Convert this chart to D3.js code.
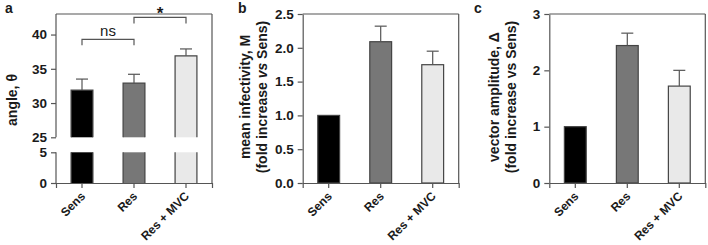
<!DOCTYPE html>
<html><head><meta charset="utf-8">
<script src="https://cdn.jsdelivr.net/npm/d3@7"></script>
<style>
html,body{margin:0;padding:0;background:#fff;}
svg{display:block;font-family:"Liberation Sans",Arial,Helvetica,sans-serif;}
</style></head>
<body>
<svg id="chart" width="708" height="245"></svg>
<script>
// ---- data ----
const categories = ["Sens", "Res", "Res + MVC"];
const barColors = ["#000000", "#777777", "#e9e9e9"];

const angleMean = [31.9, 32.9, 36.9];
const angleSem  = [1.6, 1.3, 1.0];
const angleTicksUpper = [25, 30, 35, 40];
const angleTicksLower = [0, 5];

const infectivityMean = [1.0, 2.09, 1.75];
const infectivitySem  = [0, 0.23, 0.2];
const infectivityTicks = [0, 0.5, 1.0, 1.5, 2.0, 2.5];

const amplitudeMean = [1.0, 2.44, 1.72];
const amplitudeSem  = [0, 0.22, 0.28];
const amplitudeTicks = [0, 1, 2, 3];

const sigBrackets = [{from: 0, to: 1, label: "ns", y: 39.3}, {from: 1, to: 2, label: "*", y: 42.5}];

// ---- drawing ----
const svg = d3.select("#chart");
const axisColor = "#555";
const textColor = "#1a1a1a";
const plotTop = 14, plotBottom = 183, plotW = 156;

function xScaleFor(left) {
  return d3.scaleBand().domain(categories).range([left, left + plotW]).paddingInner(0.58).paddingOuter(0.29);
}

function frame(g, left) {
  g.append("line").attr("x1", left).attr("x2", left + plotW).attr("y1", plotTop).attr("y2", plotTop)
    .attr("stroke", axisColor).attr("stroke-width", 1.2);
  g.append("line").attr("x1", left + plotW).attr("x2", left + plotW).attr("y1", plotTop).attr("y2", plotBottom)
    .attr("stroke", axisColor).attr("stroke-width", 1.2);
}

function xAxis(g, x) {
  const ax = g.append("g").attr("transform", `translate(0,${plotBottom})`)
    .call(d3.axisBottom(x).tickSizeOuter(0).tickSize(5).tickPadding(4));
  ax.select(".domain").attr("stroke", axisColor).attr("stroke-width", 1.2);
  ax.selectAll(".tick line").attr("stroke", axisColor).attr("stroke-width", 1.2);
  ax.selectAll(".tick text")
    .attr("fill", textColor).attr("font-size", 12).attr("font-weight", "bold")
    .attr("text-anchor", "end").attr("x", 0).attr("y", 0).attr("dy", "0.35em")
    .attr("transform", "translate(1,11) rotate(-45)");
}

function styleY(ax) {
  ax.selectAll(".tick line").attr("stroke", axisColor).attr("stroke-width", 1.2);
  ax.selectAll(".tick text").attr("fill", textColor).attr("font-size", 13.5).attr("font-weight", "bold");
}

function bars(g, x, y, mean, sem, baseY) {
  const bw = x.bandwidth();
  categories.forEach((c, i) => {
    const x0 = x(c), yTop = y(mean[i]);
    g.append("rect").attr("x", x0).attr("y", yTop).attr("width", bw).attr("height", baseY - yTop)
      .attr("fill", barColors[i]).attr("stroke", "#444").attr("stroke-width", 1.2);
    if (sem[i] > 0) {
      const cx = x0 + bw / 2, yE = y(mean[i] + sem[i]);
      g.append("line").attr("x1", cx).attr("x2", cx).attr("y1", yTop).attr("y2", yE)
        .attr("stroke", axisColor).attr("stroke-width", 1.2);
      g.append("line").attr("x1", cx - 6).attr("x2", cx + 6).attr("y1", yE).attr("y2", yE)
        .attr("stroke", axisColor).attr("stroke-width", 1.2);
    }
  });
}

function panelLetter(txt, px) {
  svg.append("text").attr("x", px).attr("y", 13).text(txt)
    .attr("font-size", 14).attr("font-weight", "bold").attr("fill", textColor);
}

function yTitle(lines, cx, cy) {
  const t = svg.append("text").attr("transform", `translate(${cx},${cy}) rotate(-90)`)
    .attr("text-anchor", "middle").attr("font-size", 14).attr("font-weight", "bold").attr("fill", textColor);
  lines.forEach((ln, i) => {
    const ts = t.append("tspan").attr("x", 0).attr("dy", i === 0 ? 0 : "1.22em");
    ln.forEach(part => {
      ts.append("tspan").text(part.t).attr("font-style", part.i ? "italic" : null);
    });
  });
}

// ---- Panel a (broken axis) ----
(function () {
  const left = 56;
  const g = svg.append("g");
  const x = xScaleFor(left);
  const breakTop = 137.3, breakBot = 152.3;
  const yU = d3.scaleLinear().domain([25, 43]).range([breakTop, plotTop]);
  const yL = d3.scaleLinear().domain([0, 5]).range([plotBottom, breakBot]);
  frame(g, left);

  const bw = x.bandwidth();
  categories.forEach((c, i) => {
    const x0 = x(c), yTop = yU(angleMean[i]);
    g.append("rect").attr("x", x0).attr("y", yTop).attr("width", bw).attr("height", breakTop - yTop)
      .attr("fill", barColors[i]);
    g.append("path").attr("d", `M${x0},${breakTop}V${yTop}H${x0 + bw}V${breakTop}`)
      .attr("fill", "none").attr("stroke", "#444").attr("stroke-width", 1.2);
    g.append("rect").attr("x", x0).attr("y", breakBot).attr("width", bw).attr("height", plotBottom - breakBot)
      .attr("fill", barColors[i]);
    g.append("path").attr("d", `M${x0},${breakBot}V${plotBottom}M${x0 + bw},${breakBot}V${plotBottom}`)
      .attr("fill", "none").attr("stroke", "#444").attr("stroke-width", 1.2);
    const cx = x0 + bw / 2, yE = yU(angleMean[i] + angleSem[i]);
    g.append("line").attr("x1", cx).attr("x2", cx).attr("y1", yTop).attr("y2", yE)
      .attr("stroke", axisColor).attr("stroke-width", 1.2);
    g.append("line").attr("x1", cx - 6).attr("x2", cx + 6).attr("y1", yE).attr("y2", yE)
      .attr("stroke", axisColor).attr("stroke-width", 1.2);
  });

  sigBrackets.forEach(b => {
    const x1 = x(categories[b.from]) + bw / 2, x2 = x(categories[b.to]) + bw / 2;
    const yb = yU(b.y);
    g.append("path").attr("d", `M${x1},${yb + 6}V${yb}H${x2}V${yb + 6}`)
      .attr("fill", "none").attr("stroke", axisColor).attr("stroke-width", 1.2);
    g.append("text").attr("x", (x1 + x2) / 2).attr("y", yb - (b.label === "*" ? -2 : 3))
      .attr("text-anchor", "middle").attr("font-size", b.label === "*" ? 17 : 15)
      .attr("font-weight", b.label === "*" ? "bold" : "normal").attr("fill", textColor).text(b.label);
  });

  const axU = g.append("g").attr("transform", `translate(${left},0)`)
    .call(d3.axisLeft(yU).tickValues(angleTicksUpper).tickFormat(d3.format("d")).tickSize(5).tickPadding(4).tickSizeOuter(0));
  axU.select(".domain").remove();
  styleY(axU);
  g.append("line").attr("x1", left).attr("x2", left).attr("y1", plotTop).attr("y2", breakTop)
    .attr("stroke", axisColor).attr("stroke-width", 1.2);
  const axL = g.append("g").attr("transform", `translate(${left},0)`)
    .call(d3.axisLeft(yL).tickValues(angleTicksLower).tickFormat(d3.format("d")).tickSize(5).tickPadding(4).tickSizeOuter(0));
  axL.select(".domain").remove();
  styleY(axL);
  g.append("line").attr("x1", left).attr("x2", left).attr("y1", breakBot).attr("y2", plotBottom)
    .attr("stroke", axisColor).attr("stroke-width", 1.2);
  xAxis(g, x);
  panelLetter("a", 5);
  yTitle([[{t: "angle, θ"}]], 17, 100);
})();

// ---- Panel b ----
(function () {
  const left = 302.7;
  const g = svg.append("g");
  const x = xScaleFor(left);
  const y = d3.scaleLinear().domain([0, 2.5]).range([plotBottom, plotTop]);
  frame(g, left);
  bars(g, x, y, infectivityMean, infectivitySem, plotBottom);
  const ax = g.append("g").attr("transform", `translate(${left},0)`)
    .call(d3.axisLeft(y).tickValues(infectivityTicks).tickFormat(d3.format(".1f")).tickSize(5).tickPadding(4).tickSizeOuter(0));
  ax.select(".domain").attr("stroke", axisColor).attr("stroke-width", 1.2);
  styleY(ax);
  xAxis(g, x);
  panelLetter("b", 238);
  yTitle([[{t: "mean infectivity, M"}], [{t: "(fold increase "}, {t: "vs", i: true}, {t: " Sens)"}]], 250, 97);
})();

// ---- Panel c ----
(function () {
  const left = 549.3;
  const g = svg.append("g");
  const x = xScaleFor(left);
  const y = d3.scaleLinear().domain([0, 3]).range([plotBottom, plotTop]);
  frame(g, left);
  bars(g, x, y, amplitudeMean, amplitudeSem, plotBottom);
  const ax = g.append("g").attr("transform", `translate(${left},0)`)
    .call(d3.axisLeft(y).tickValues(amplitudeTicks).tickFormat(d3.format("d")).tickSize(5).tickPadding(4).tickSizeOuter(0));
  ax.select(".domain").attr("stroke", axisColor).attr("stroke-width", 1.2);
  styleY(ax);
  xAxis(g, x);
  panelLetter("c", 474);
  yTitle([[{t: "vector amplitude, Δ"}], [{t: "(fold increase vs Sens)"}]], 499, 97);
})();
</script>
</body></html>
